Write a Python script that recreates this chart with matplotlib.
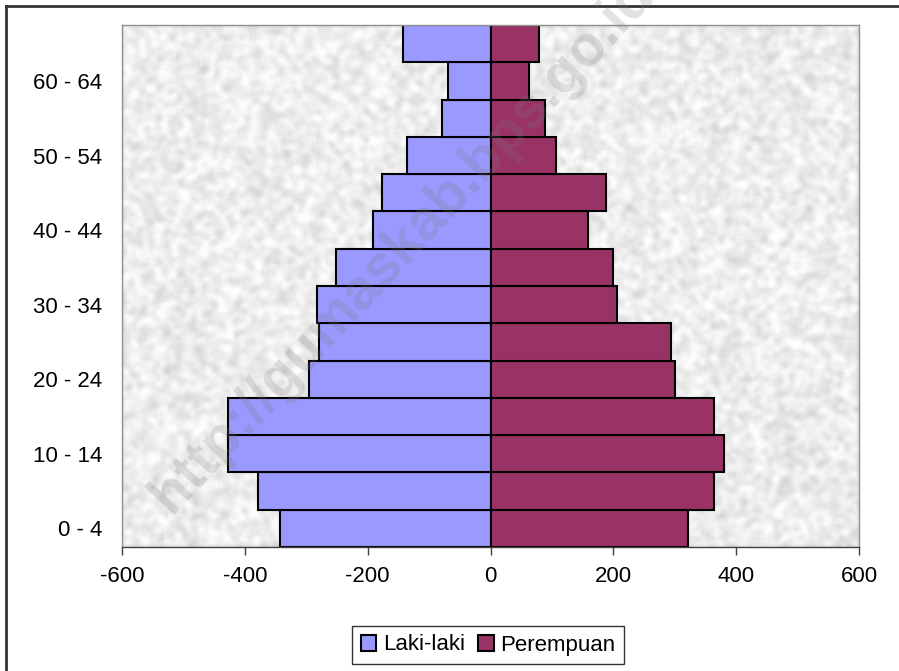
"""
Piramida penduduk - Laki-laki vs Perempuan
"""
import numpy as np
import matplotlib
matplotlib.use('Agg')
import matplotlib.pyplot as plt
from matplotlib.lines import Line2D

plt.rcParams['font.family'] = ['Liberation Sans', 'DejaVu Sans']
plt.rcParams['axes.unicode_minus'] = False

# kelompok umur, dari bawah ke atas
age_groups = ['0 - 4', '5 - 9', '10 - 14', '15 - 19', '20 - 24', '25 - 29', '30 - 34',
              '35 - 39', '40 - 44', '45 - 49', '50 - 54', '55 - 59', '60 - 64', '65+']
laki_laki = [343, 379, 427, 427, 295, 280, 283, 252, 192, 176, 136, 79, 69, 143]
perempuan = [322, 364, 380, 364, 300, 294, 206, 200, 158, 188, 106, 88, 63, 79]
x_ticks = [-600, -400, -200, 0, 200, 400, 600]

FS = 16

fig = plt.figure(figsize=(8.99, 6.71), dpi=100)
ax = fig.add_axes([122 / 899, 1 - 547 / 671, 737 / 899, 522 / 671])

# latar abu-abu bertekstur (hiasan saja, bukan data)
rng = np.random.default_rng(7)
noise = rng.random((220, 300))
k = np.ones(3) / 3
noise = np.apply_along_axis(lambda r: np.convolve(r, k, mode='same'), 1, noise)
noise = np.apply_along_axis(lambda c: np.convolve(c, k, mode='same'), 0, noise)
noise = (noise - noise.mean()) / noise.std()
tex = np.clip(0.93 + 0.035 * noise, 0.80, 1.0)
ax.imshow(tex, cmap='gray', vmin=0, vmax=1, extent=[0, 1, 0, 1], transform=ax.transAxes,
          aspect='auto', interpolation='bicubic', zorder=0)

y = np.arange(len(age_groups))
ax.barh(y, -np.array(laki_laki), height=1.0, color='#9999FF', edgecolor='black',
        linewidth=1.5, label='Laki-laki', zorder=2)
ax.barh(y, perempuan, height=1.0, color='#993366', edgecolor='black',
        linewidth=1.5, label='Perempuan', zorder=2)

ax.set_xlim(-600, 600)
ax.set_ylim(-0.5, len(age_groups) - 0.5)
ax.set_xticks(x_ticks)
ax.set_xticklabels([str(v) for v in x_ticks])
ax.set_yticks(y[::2])
ax.set_yticklabels(age_groups[::2])
ax.tick_params(axis='y', length=0, pad=14, labelsize=FS)
ax.tick_params(axis='x', length=6, width=1, color='#404040', direction='out',
               pad=8, labelsize=FS)
for s in ['top', 'right', 'left']:
    ax.spines[s].set_color('#909090')
    ax.spines[s].set_linewidth(1)
ax.spines['bottom'].set_color('#404040')
ax.spines['bottom'].set_linewidth(1)

# sumbu kategori di posisi nol
sec = ax.secondary_yaxis(0.5)
sec.set_yticks(y)
sec.set_yticklabels([])
sec.tick_params(length=6, width=1.2, color='black', direction='out')
sec.spines['left'].set_color('black')
sec.spines['left'].set_linewidth(1.5)

leg = fig.legend(loc='center', bbox_to_anchor=(488 / 899, 1 - 645 / 671), ncol=2,
                 fontsize=FS, frameon=True, fancybox=False, edgecolor='black',
                 handlelength=0.7, handleheight=0.7, handletextpad=0.3,
                 columnspacing=0.6, borderpad=0.4)
leg.get_frame().set_linewidth(1)

# watermark
fig.text(402 / 899, 1 - 245 / 671, 'http://gumaskab.bps.go.id', fontsize=41,
         fontweight='bold', color='#7a7a7a', alpha=0.22, rotation=47,
         ha='center', va='center', zorder=10)

# bingkai luar (atas dan kiri)
fig.add_artist(Line2D([6 / 899, 6 / 899], [0, 1 - 6 / 671], transform=fig.transFigure,
                      color='#333333', linewidth=2))
fig.add_artist(Line2D([6 / 899, 1], [1 - 6 / 671, 1 - 6 / 671], transform=fig.transFigure,
                      color='#333333', linewidth=2))

fig.savefig('out.png', dpi=100)
